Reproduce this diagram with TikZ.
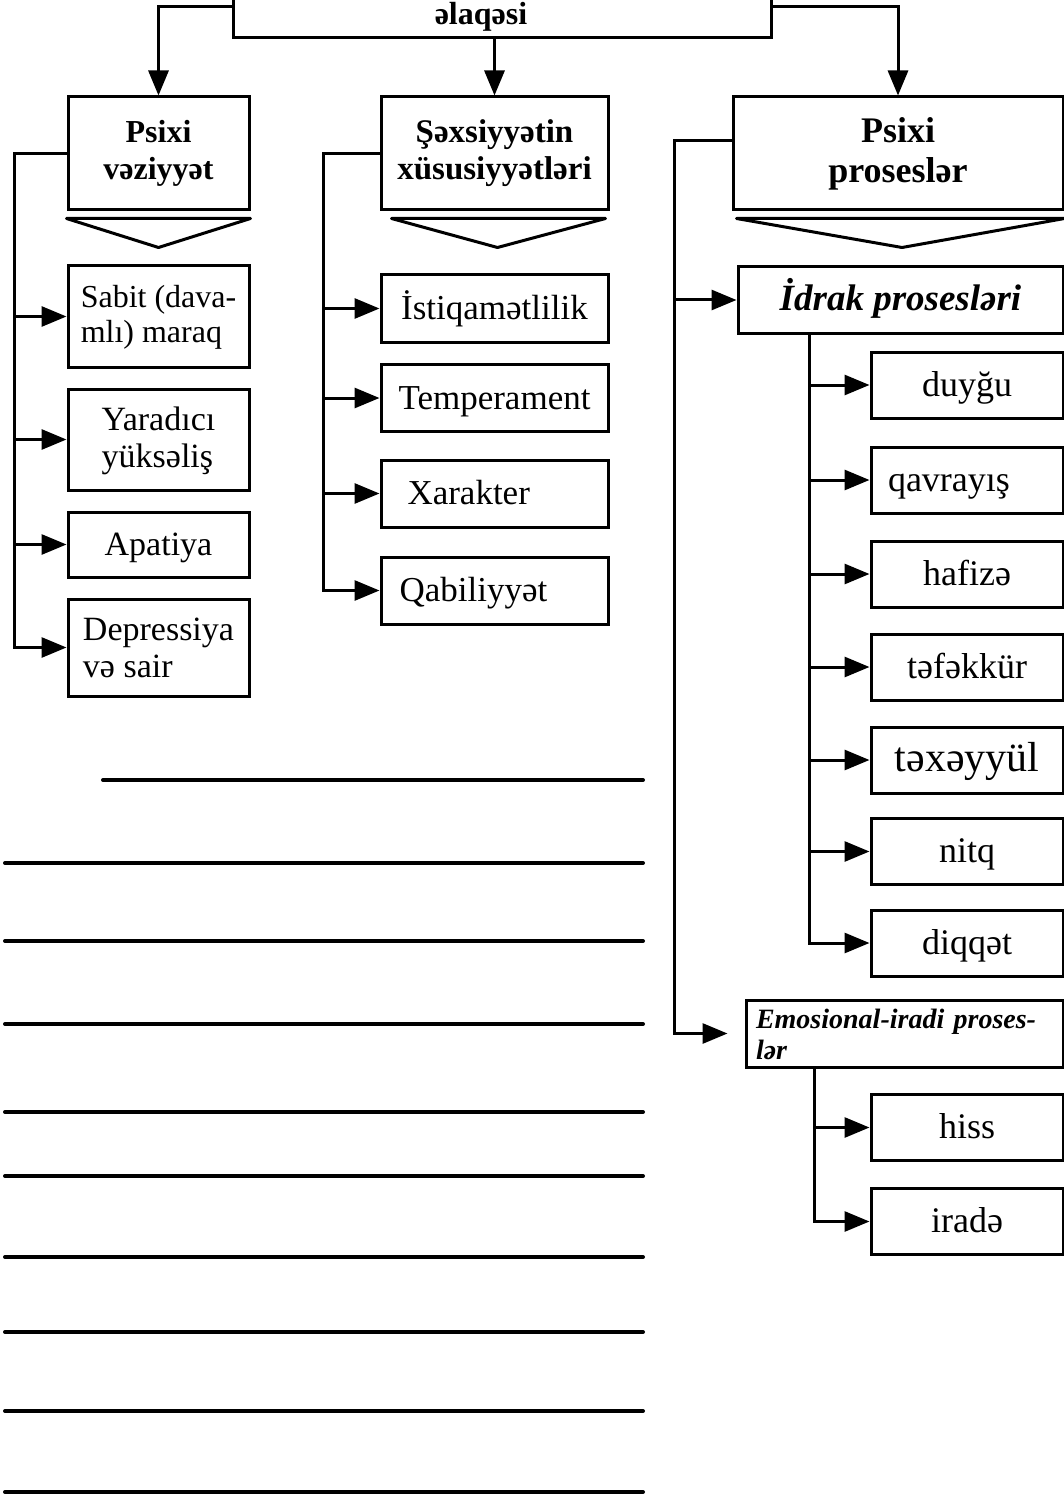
\documentclass[tikz,border=0pt]{standalone}
\usepackage{fontspec}
\setmainfont{Liberation Serif}
\usetikzlibrary{arrows.meta,positioning,calc}

\begin{document}
\begin{tikzpicture}[x=1pt,y=-1pt,>={Triangle[length=25pt,width=20pt]},
    box/.style={draw,line width=3pt,inner sep=0pt,align=center},
    one/.style={text height=24pt,text depth=2pt},
    two/.style={text height=#1,text depth=2pt},
    head/.style={box,two=55pt,minimum height=113pt,font=\bfseries\fontsize{32}{37}\selectfont},
    item/.style={box,minimum width=181pt,font=\fontsize{34}{37}\selectfont},
    mid/.style={box,one,minimum width=227pt,minimum height=67pt,font=\fontsize{35}{40}\selectfont},
    sub/.style={box,one,minimum width=192pt,minimum height=66pt,font=\fontsize{36}{40}\selectfont},
    conn/.style={line width=3pt},
    chev/.style={line width=3pt,line join=round},
    rule/.style={line width=4pt,line cap=round}]
    \useasboundingbox (0,0) rectangle (1064,1495);

    % top
    \node[draw,line width=3pt,minimum width=538pt,minimum height=140pt] (top) at (502,-32) {};
    \node[anchor=base,font=\bfseries\fontsize{32}{40}\selectfont] (elaqe) at (481,25) {əlaqəsi};

    % three main boxes
    \node[head,minimum width=181pt] (psv) at (158.5,153.5) {Psixi\\vəziyyət};
    \node[head,minimum width=227pt,font=\bfseries\fontsize{33}{37}\selectfont] (shx) at (494.5,153.5) {Şəxsiyyətin\\xüsusiyyətləri};
    \node[head,minimum width=330pt,two=61pt,font=\bfseries\fontsize{36}{40}\selectfont] (psp) at (898,153.5) {Psixi\\proseslər};

    \draw[conn,->] ([yshift=-39pt]top.west) -| (psv.north);
    \draw[conn,->] (shx.north |- top.south) -- (shx.north);
    \draw[conn,->] ([yshift=-39pt]top.east) -| (psp.north);

    \draw[chev] ([yshift=-7pt]psv.south west) -- ([yshift=-36pt]psv.south) -- ([yshift=-7pt]psv.south east) -- cycle;
    \draw[chev] ([xshift=12pt,yshift=-7pt]shx.south west) -- ([xshift=3pt,yshift=-36pt]shx.south) -- ([xshift=-4pt,yshift=-7pt]shx.south east) -- cycle;
    \draw[chev] ([xshift=5pt,yshift=-7pt]psp.south west) -- ([xshift=4pt,yshift=-36pt]psp.south) -- ([yshift=-7pt]psp.south east) -- cycle;

    % left column
    \node[item,two=53pt,minimum height=101pt,align=left,font=\fontsize{32}{35}\selectfont] (sabit) at (158.5,316.5) {Sabit (dava-\\mlı) maraq};
    \node[item,two=57pt,minimum height=101pt,align=left] (yarad) at (158.5,439.5) {Yaradıcı\\yüksəliş};
    \node[item,one,minimum height=65pt] (apat) at (158.5,544.5) {Apatiya};
    \node[item,two=61pt,minimum height=97pt,align=left] (depr) at (158.5,647.5) {Depressiya\\və sair};

    \coordinate (ltrunk) at ([xshift=-52pt]psv.west);
    \draw[conn,->] (psv.west) -- (ltrunk) |- (depr.west);
    \foreach \n in {sabit,yarad,apat}
        \draw[conn,->] (ltrunk |- \n.west) -- (\n.west);

    % middle column
    \node[mid] (istiq) at (494.5,308.5) {İstiqamətlilik};
    \node[mid] (temp) at (494.5,398) {Temperament};
    \node[mid,align=left,text width=174pt] (xarak) at (494.5,493.5) {Xarakter};
    \node[mid,align=left,text width=190pt] (qabil) at (494.5,590.5) {Qabiliyyət};

    \coordinate (mtrunk) at ([xshift=-56pt]shx.west);
    \draw[conn,->] (shx.west) -- (mtrunk) |- (qabil.west);
    \foreach \n in {istiq,temp,xarak}
        \draw[conn,->] (mtrunk |- \n.west) -- (\n.west);

    % right column
    \node[box,one,minimum width=325pt,minimum height=66pt,font=\bfseries\itshape\fontsize{37}{40}\selectfont] (idrak) at (900.5,300) {İdrak prosesləri};
    \node[sub] (duy) at (967,385) {duyğu};
    \node[sub,align=left,text width=158pt] (qav) at (967,480) {qavrayış};
    \node[sub] (haf) at (967,574) {hafizə};
    \node[sub] (tef) at (967,667) {təfəkkür};
    \node[sub,font=\fontsize{42}{44}\selectfont] (tex) at (967,760) {təxəyyül};
    \node[sub] (nitq) at (967,851.5) {nitq};
    \node[sub] (diq) at (967,943) {diqqət};
    \node[box,text height=20pt,text depth=31pt,minimum width=317pt,minimum height=67pt,text width=297pt,align=left,font=\bfseries\itshape\fontsize{28}{31}\selectfont] (emo) at (904.5,1033.5) {Emosional-iradi proses-\\lər};
    \node[sub] (hiss) at (967,1127.5) {hiss};
    \node[sub] (irad) at (967,1221.5) {iradə};

    \coordinate (rtrunk) at ([xshift=-57pt,yshift=12.5pt]psp.west);
    \draw[conn,->,shorten >=17pt] ([yshift=12.5pt]psp.west) -- (rtrunk) |- (emo.west);
    \draw[conn,->] (rtrunk |- idrak.west) -- (idrak.west);

    \coordinate (itrunk) at ([xshift=73pt]idrak.south west);
    \draw[conn,->] (itrunk) |- (diq.west);
    \foreach \n in {duy,qav,haf,tef,tex,nitq}
        \draw[conn,->] (itrunk |- \n.west) -- (\n.west);

    \coordinate (etrunk) at ([xshift=70pt]emo.south west);
    \draw[conn,->] (etrunk) |- (irad.west);
    \draw[conn,->] (etrunk |- hiss.west) -- (hiss.west);

    % lines for notes
    \draw[rule] (103,780) -- (643,780);
    \foreach \y in {863,941,1024,1112,1176,1257,1332,1411,1492}
        \draw[rule] (5,\y) -- (643,\y);
\end{tikzpicture}
\end{document}
